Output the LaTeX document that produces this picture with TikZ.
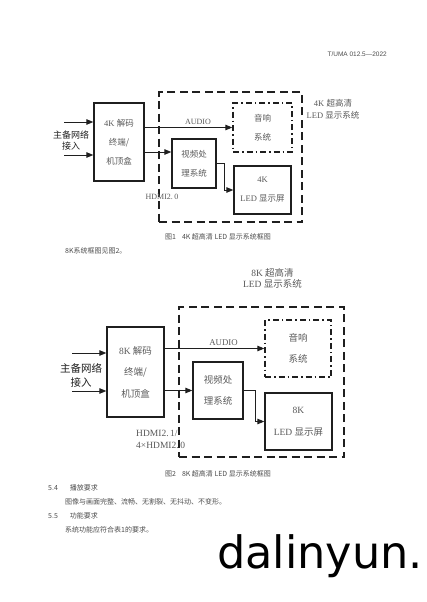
\documentclass[tikz,border=0pt]{standalone}
\usepackage{fontspec}
\setmainfont{Liberation Serif}
\newfontfamily\cjk{Noto Sans CJK SC}
\newfontfamily\hdrfont{Liberation Sans}
\newfontfamily\wmfont{DejaVu Sans}
\usetikzlibrary{arrows.meta}
\definecolor{linec}{gray}{0.12}
\definecolor{txtc}{gray}{0.35}
\definecolor{doct}{gray}{0.3}
\begin{document}
\begin{tikzpicture}[x=1pt,y=-1pt,
  box/.style={draw=linec, line width=1.3pt, inner sep=0pt, align=center, text=txtc},
  fa/.style={font=\fontsize{8.5}{19}\selectfont},
  fb/.style={font=\fontsize{9.5}{21.5}\selectfont},
  dbox/.style={draw=linec, line width=1.3pt, dash pattern=on 8pt off 4.5pt, inner sep=0pt},
  ddbox/.style={draw=linec, line width=1.3pt, dash pattern=on 6pt off 3pt on 1.5pt off 3pt, inner sep=0pt, align=center, text=txtc},
  arr/.style={draw=linec, line width=0.9pt, -{Triangle[length=7pt,width=5.5pt]}},
  lbl/.style={text=txtc, inner sep=0pt, align=center},
  doc/.style={text=doct, inner sep=0pt, anchor=west, font=\cjk\fontsize{7}{8}\selectfont}
]
\useasboundingbox (0,0) rectangle (426,602);

% header
\node[inner sep=0pt, anchor=east, text=doct, font=\hdrfont\fontsize{6.5}{8}\selectfont] (hdr) at (387,54) {T/UMA 012.5—2022};

% ---------------- Figure 1 ----------------
\node[dbox, minimum width=143pt, minimum height=130pt] (out1) at (230.5,157) {};
\node[box, fa, minimum width=50pt, minimum height=78pt] (dec1) at (119,142) {4K {\cjk 解码}\\{\cjk 终端/}\\{\cjk 机顶盒}};
\node[ddbox, fa, minimum width=59pt, minimum height=49pt] (aud1) at (262.5,127.5) {{\cjk 音响}\\{\cjk 系统}};
\node[box, fa, minimum width=44pt, minimum height=49pt] (vid1) at (194,163.5) {{\cjk 视频处}\\{\cjk 理系统}};
\node[box, fa, minimum width=57pt, minimum height=48pt] (led1) at (262.5,190) {4K\\LED {\cjk 显示屏}};

\coordinate (i1a) at (64,122);
\coordinate (i1b) at (64,155);
\draw[arr] (i1a) -- (i1a -| dec1.west);
\draw[arr] (i1b) -- (i1b -| dec1.west);
\node[lbl, text=linec, font=\cjk\fontsize{9}{11.5}\selectfont] (net1) at (71,140.5) {主备网络\\接入};

\draw[arr] (aud1.west -| dec1.east) -- (aud1.west);
\node[lbl, font=\fontsize{8}{9}\selectfont] (audio1) at (198,122) {AUDIO};
\draw[arr] (dec1.east |- 0,152) -- (vid1.west |- 0,152);
\node[lbl, font=\fontsize{8}{9}\selectfont] (hdmi1) at (162,197) {HDMI2.\,0};
\draw[arr] (vid1.east) -- ++(8,0) |- (led1.west);

\node[lbl, font=\fontsize{8.5}{12}\selectfont] (sys1) at (333,109) {4K {\cjk 超高清}\\LED {\cjk 显示系统}};

\node[inner sep=0pt, text=doct, font=\cjk\fontsize{7}{8}\selectfont] (cap1) at (218,237) {图1\hspace{6pt}4K 超高清 LED 显示系统框图};
\node[doc] (p1) at (65,251) {8K系统框图见图2。};

% ---------------- Figure 2 ----------------
\node[lbl, font=\fontsize{9.5}{11.6}\selectfont] (sys2) at (272.5,278.5) {8K {\cjk 超高清}\\LED {\cjk 显示系统}};

\node[dbox, minimum width=165pt, minimum height=150pt] (out2) at (261.5,382) {};
\node[box, fb, minimum width=57pt, minimum height=90pt] (dec2) at (135.5,372) {8K {\cjk 解码}\\{\cjk 终端/}\\{\cjk 机顶盒}};
\node[ddbox, fb, minimum width=66pt, minimum height=57pt] (aud2) at (298,348.5) {{\cjk 音响}\\{\cjk 系统}};
\node[box, fb, minimum width=50pt, minimum height=57pt] (vid2) at (218,390.5) {{\cjk 视频处}\\{\cjk 理系统}};
\node[box, fb, minimum width=67pt, minimum height=57pt] (led2) at (298.5,421.5) {8K\\LED {\cjk 显示屏}};

\coordinate (i2a) at (72,353);
\coordinate (i2b) at (72,391);
\draw[arr] (i2a) -- (i2a -| dec2.west);
\draw[arr] (i2b) -- (i2b -| dec2.west);
\node[lbl, text=linec, font=\cjk\fontsize{10.5}{14}\selectfont] (net2) at (81,375) {主备网络\\接入};

\draw[arr] (aud2.west -| dec2.east) -- (aud2.west);
\node[lbl, font=\fontsize{8.8}{10}\selectfont] (audio2) at (223.5,343) {AUDIO};
\draw[arr] (dec2.east |- vid2.west) -- (vid2.west);
\node[lbl, anchor=west, align=left, font=\fontsize{9.5}{12}\selectfont] (hdmi2) at (136,439) {HDMI2.\,1/\\4×HDMI2.\,0};
\draw[arr] (vid2.east) -- ++(12,0) |- (led2.west);

\node[inner sep=0pt, text=doct, font=\cjk\fontsize{7}{8}\selectfont] (cap2) at (218,474) {图2\hspace{6pt}8K 超高清 LED 显示系统框图};

% ---------------- text ----------------
\node[doc] (s54) at (48,488) {5.4\hspace{12pt}播放要求};
\node[doc] (t54) at (65,502) {图像与画面完整、流畅、无割裂、无抖动、不变形。};
\node[doc] (s55) at (48,516) {5.5\hspace{12pt}功能要求};
\node[doc] (t55) at (65,530) {系统功能应符合表1的要求。};

\node[inner sep=0pt, anchor=base west, font=\wmfont\fontsize{44.6}{50}\selectfont] (wm) at (217,568) {dalinyun.};
\end{tikzpicture}
\end{document}
